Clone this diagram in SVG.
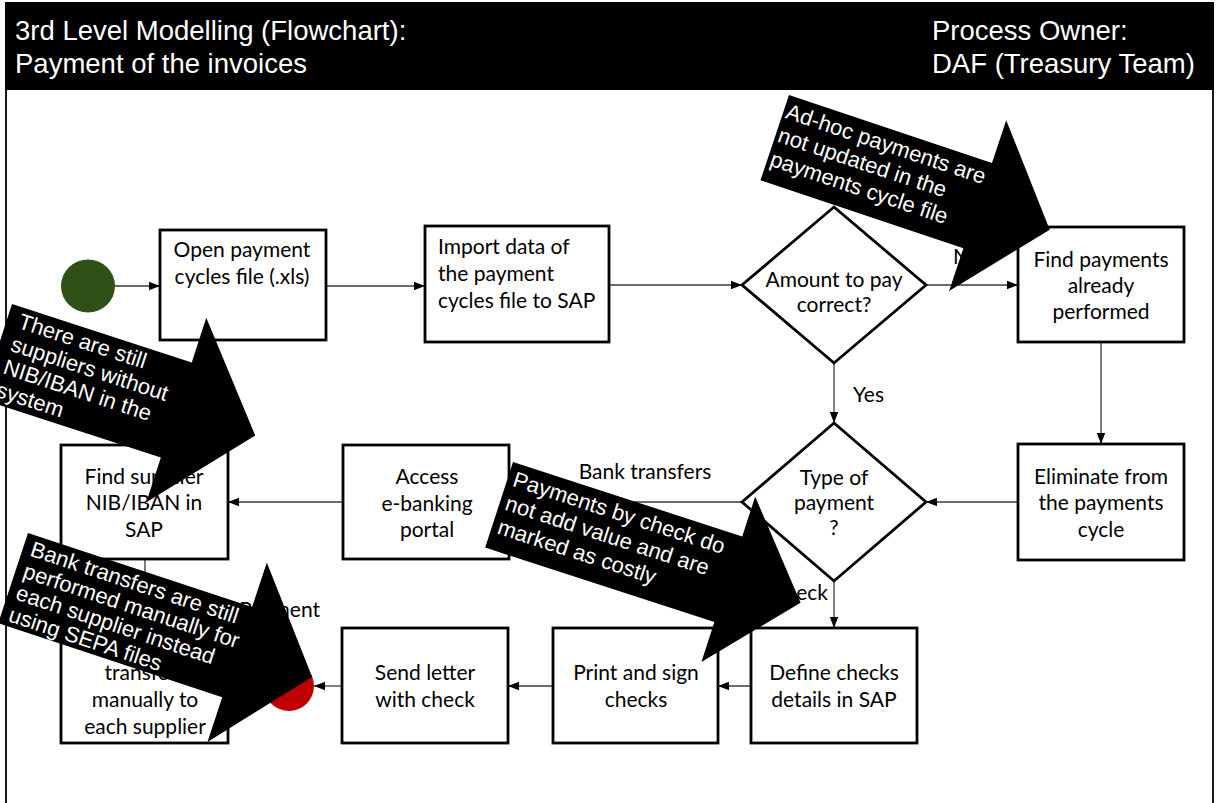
<svg xmlns="http://www.w3.org/2000/svg" width="1218" height="803" viewBox="0 0 1218 803">
  <style>
    .node { fill: #ffffff; stroke: #000000; stroke-width: 2.8; }
    .lbl { font-family: Lato, "Liberation Sans", sans-serif; font-size: 21px; fill: #000000; }
    .mid { text-anchor: middle; }
    .edge { fill: none; stroke: #3a3a3a; stroke-width: 1.3; }
    .head { font-family: "Liberation Sans", Arial, sans-serif; font-size: 27.5px; fill: #ffffff; }
    .note { fill: #000000; }
    .note text { font-family: "Liberation Sans", Arial, sans-serif; font-size: 22px; fill: #ffffff; }
  </style>
  <defs>
    <marker id="arrow" markerUnits="userSpaceOnUse" markerWidth="12" markerHeight="10" refX="11" refY="5" orient="auto">
      <path d="M0,0.8 L11,5 L0,9.2 Z" fill="#000000"/>
    </marker>
  </defs>

  <!-- page background and frame -->
  <rect x="0" y="0" width="1218" height="803" fill="#ffffff"/>
  <line x1="6" y1="88" x2="6" y2="803" stroke="#1a1a1a" stroke-width="2"/>
  <line x1="1213" y1="88" x2="1213" y2="803" stroke="#1a1a1a" stroke-width="2"/>

  <!-- title band -->
  <g id="title">
    <rect x="5" y="2" width="1209" height="88" fill="#000000"/>
    <text class="head" x="15" y="40">3rd Level Modelling (Flowchart):</text>
    <text class="head" x="15" y="73">Payment of the invoices</text>
    <text class="head" x="932" y="40">Process Owner:</text>
    <text class="head" x="932" y="73">DAF (Treasury Team)</text>
  </g>

  <!-- connectors -->
  <g id="connectors">
    <line class="edge" x1="115" y1="286" x2="160" y2="286" marker-end="url(#arrow)"/>
    <line class="edge" x1="326" y1="286" x2="425" y2="286" marker-end="url(#arrow)"/>
    <line class="edge" x1="609" y1="285" x2="742" y2="285" marker-end="url(#arrow)"/>
    <line class="edge" x1="926" y1="285" x2="1018" y2="285" marker-end="url(#arrow)"/>
    <line class="edge" x1="1101" y1="342" x2="1101" y2="444" marker-end="url(#arrow)"/>
    <line class="edge" x1="1018" y1="502" x2="926" y2="502" marker-end="url(#arrow)"/>
    <line class="edge" x1="834" y1="363" x2="834" y2="423" marker-end="url(#arrow)"/>
    <line class="edge" x1="742" y1="502" x2="509" y2="502" marker-end="url(#arrow)"/>
    <line class="edge" x1="343" y1="502" x2="228" y2="502" marker-end="url(#arrow)"/>
    <line class="edge" x1="145" y1="559" x2="145" y2="628" marker-end="url(#arrow)"/>
    <line class="edge" x1="834" y1="581" x2="834" y2="628" marker-end="url(#arrow)"/>
    <line class="edge" x1="751" y1="686" x2="718" y2="686" marker-end="url(#arrow)"/>
    <line class="edge" x1="553" y1="686" x2="508" y2="686" marker-end="url(#arrow)"/>
    <line class="edge" x1="342" y1="686" x2="314" y2="686" marker-end="url(#arrow)"/>
    <text class="lbl" x="953" y="264">No</text>
    <text class="lbl" x="853" y="402">Yes</text>
    <text class="lbl mid" x="645" y="479">Bank transfers</text>
    <text class="lbl" x="828" y="600" text-anchor="end">Check</text>
    <text class="lbl" x="320" y="617" text-anchor="end">Payment</text>
  </g>

  <!-- process nodes -->
  <g id="start">
    <ellipse cx="88" cy="286" rx="27" ry="26.5" fill="#2f5016"/>
  </g>
  <g id="open-cycles-file">
    <rect class="node" x="160" y="230" width="166" height="110"/>
    <text class="lbl mid" x="242" y="257">Open payment</text>
    <text class="lbl mid" x="242" y="284">cycles file (.xls)</text>
  </g>
  <g id="import-to-sap">
    <rect class="node" x="425" y="226" width="184" height="116"/>
    <text class="lbl" x="438" y="254">Import data of</text>
    <text class="lbl" x="438" y="281">the payment</text>
    <text class="lbl" x="438" y="308">cycles file to SAP</text>
  </g>
  <g id="amount-correct">
    <polygon class="node" points="834,207 926,285 834,363 742,285"/>
    <text class="lbl mid" x="834" y="287">Amount to pay</text>
    <text class="lbl mid" x="834" y="312">correct?</text>
  </g>
  <g id="find-payments">
    <rect class="node" x="1018" y="227" width="166" height="115"/>
    <text class="lbl mid" x="1101" y="267">Find payments</text>
    <text class="lbl mid" x="1101" y="293">already</text>
    <text class="lbl mid" x="1101" y="319">performed</text>
  </g>
  <g id="eliminate">
    <rect class="node" x="1018" y="444" width="166" height="116"/>
    <text class="lbl mid" x="1101" y="484">Eliminate from</text>
    <text class="lbl mid" x="1101" y="510">the payments</text>
    <text class="lbl mid" x="1101" y="537">cycle</text>
  </g>
  <g id="payment-type">
    <polygon class="node" points="834,423 926,502 834,581 742,502"/>
    <text class="lbl mid" x="834" y="485">Type of</text>
    <text class="lbl mid" x="834" y="510">payment</text>
    <text class="lbl mid" x="834" y="535">?</text>
  </g>
  <g id="ebanking">
    <rect class="node" x="343" y="445" width="166" height="114"/>
    <text class="lbl mid" x="427" y="484">Access</text>
    <text class="lbl mid" x="427" y="511">e-banking</text>
    <text class="lbl mid" x="427" y="537">portal</text>
  </g>
  <g id="find-iban">
    <rect class="node" x="61" y="445" width="167" height="114"/>
    <text class="lbl mid" x="144" y="484">Find supplier</text>
    <text class="lbl mid" x="144" y="510">NIB/IBAN in</text>
    <text class="lbl mid" x="144" y="537">SAP</text>
  </g>
  <g id="manual-transfers">
    <rect class="node" x="61" y="628" width="167" height="115"/>
    <text class="lbl mid" x="145" y="680">transfers</text>
    <text class="lbl mid" x="145" y="707">manually to</text>
    <text class="lbl mid" x="145" y="734">each supplier</text>
  </g>
  <g id="define-checks">
    <rect class="node" x="751" y="628" width="166" height="115"/>
    <text class="lbl mid" x="834" y="680">Define checks</text>
    <text class="lbl mid" x="834" y="707">details in SAP</text>
  </g>
  <g id="print-checks">
    <rect class="node" x="553" y="628" width="165" height="115"/>
    <text class="lbl mid" x="636" y="680">Print and sign</text>
    <text class="lbl mid" x="636" y="707">checks</text>
  </g>
  <g id="send-letter">
    <rect class="node" x="342" y="628" width="166" height="115"/>
    <text class="lbl mid" x="425" y="680">Send letter</text>
    <text class="lbl mid" x="425" y="707">with check</text>
  </g>
  <g id="end">
    <circle cx="289" cy="686" r="25" fill="#c00000"/>
  </g>

  <!-- issue callouts (block arrows) -->
  <g id="issue-adhoc" class="note" transform="translate(789,95) rotate(18.5)">
    <polygon points="0,0 214,0 214,-45 290,45 214,135 214,90 0,90"/>
    <text x="3" y="23">Ad-hoc payments are</text>
    <text x="3" y="48">not updated in the</text>
    <text x="3" y="73">payments cycle file</text>
  </g>
  <g id="issue-iban" class="note" transform="translate(12,304) rotate(18)">
    <polygon points="0,0 189,0 189,-47 272,50 189,147 189,100 0,100"/>
    <text x="12" y="21">There are still</text>
    <text x="12" y="45">suppliers without</text>
    <text x="12" y="69">NIB/IBAN in the</text>
    <text x="12" y="93">system</text>
  </g>
  <g id="issue-sepa" class="note" transform="translate(28,533) rotate(18.3)">
    <polygon points="0,0 236,0 236,-47 315,47.5 236,142 236,95 0,95"/>
    <text x="8" y="21">Bank transfers are still</text>
    <text x="8" y="44">performed manually for</text>
    <text x="8" y="67">each supplier instead</text>
    <text x="8" y="90">using SEPA files</text>
  </g>
  <g id="issue-checks" class="note" transform="translate(513,462) rotate(18)">
    <polygon points="0,0 241,0 241,-42 317,45 241,132 241,90 0,90"/>
    <text x="6" y="23">Payments by check do</text>
    <text x="6" y="48">not add value and are</text>
    <text x="6" y="73">marked as costly</text>
  </g>
</svg>
